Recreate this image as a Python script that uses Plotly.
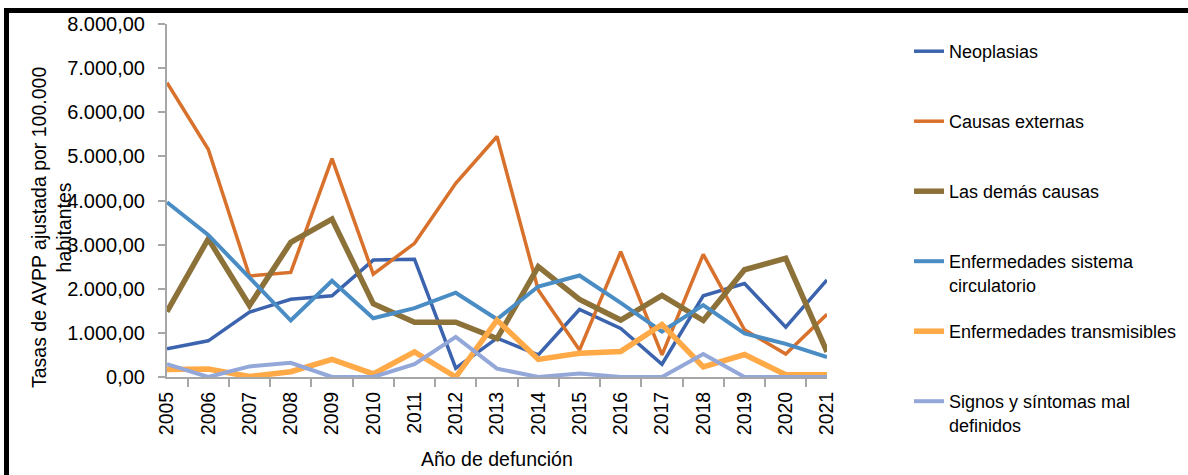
import plotly.graph_objects as go

years = [str(y) for y in range(2005, 2022)]

neoplasias = [640, 820, 1470, 1760, 1840, 2650, 2670, 200, 880, 500, 1530, 1100, 290, 1840, 2120, 1130, 2200]
causas_externas = [6670, 5160, 2290, 2370, 4950, 2330, 3030, 4390, 5450, 1970, 610, 2840, 500, 2780, 1070, 520, 1420]
demas_causas = [1480, 3130, 1620, 3050, 3580, 1660, 1240, 1240, 870, 2500, 1760, 1290, 1850, 1280, 2430, 2690, 570]
circulatorio = [3960, 3220, 2250, 1280, 2180, 1330, 1560, 1910, 1310, 2050, 2300, 1680, 1030, 1630, 990, 750, 450]
transmisibles = [170, 180, 10, 120, 400, 70, 570, 0, 1290, 400, 540, 580, 1190, 230, 510, 50, 50]
signos = [290, 0, 240, 320, 0, 0, 290, 910, 190, 0, 80, 0, 0, 520, 0, 0, 0]

series_names = ["Neoplasias", "Causas externas", "Las demás causas",
                "Enfermedades sistema<br>circulatorio", "Enfermedades transmisibles",
                "Signos y síntomas mal<br>definidos"]
series_values = [neoplasias, causas_externas, demas_causas, circulatorio, transmisibles, signos]
series_colors = ["#3C64AE", "#D8712B", "#8C7139", "#4A8CC4", "#FFA947", "#93A7D9"]
series_widths = [3.5, 3.5, 5.5, 4, 5.5, 4]

y_ticks = [0, 1000, 2000, 3000, 4000, 5000, 6000, 7000, 8000]

FONT = "Liberation Sans, Arial, sans-serif"
W, H = 1188, 475
L, R, T, B = 167, 361, 24, 98
PW, PH = W - L - R, H - T - B

def px_x(p):
    return (p - L) / PW

def px_y(p):
    return (H - B - p) / PH

fig = go.Figure()
legend_targets = [51, 121, 191, 261, 331, 401]
for i, (name, vals, col, wd) in enumerate(zip(series_names, series_values, series_colors, series_widths)):
    lg = "legend" if i == 0 else f"legend{i+1}"
    fig.add_trace(go.Scatter(x=years, y=vals, mode="lines", name=name,
                             line=dict(color=col, width=wd), legend=lg))

legend_common = dict(xanchor="left", yanchor="top", valign="top",
                     bgcolor="rgba(0,0,0,0)", borderwidth=0,
                     font=dict(family=FONT, size=18, color="#000000"))
for i, ty in enumerate(legend_targets):
    key = "legend" if i == 0 else f"legend{i+1}"
    fig.update_layout(**{key: dict(x=px_x(909), y=px_y(ty - 18), **legend_common)})

fig.update_layout(
    width=W, height=H,
    margin=dict(l=L, r=R, t=T, b=B, autoexpand=False),
    paper_bgcolor="white", plot_bgcolor="white",
    separators=",.",
    showlegend=True,
    font=dict(family=FONT, color="#000000"),
    xaxis=dict(type="category", tickangle=-90, showgrid=False, zeroline=False,
               showline=True, linecolor="#A6A6A6", linewidth=2,
               ticks="outside", tickson="boundaries", ticklen=8, tickcolor="#A6A6A6", tickwidth=1.5,
               tickfont=dict(family=FONT, size=19.5, color="#000000"),
               ticklabelstandoff=5),
    yaxis=dict(range=[0, 8000], tickvals=y_ticks, tickformat=",.2f", showgrid=False, zeroline=False,
               showline=True, linecolor="#A6A6A6", linewidth=2,
               ticks="outside", ticklen=7, tickcolor="#A6A6A6", tickwidth=1.5,
               tickfont=dict(family=FONT, size=20, color="#000000"),
               ticklabelstandoff=9),
    annotations=[
        dict(text="Año de defunción", xref="paper", yref="paper", x=0.5, y=px_y(459),
             xanchor="center", yanchor="middle", showarrow=False,
             font=dict(family=FONT, size=19.5, color="#000000")),
        dict(text="Tasas de AVPP ajustada por 100.000<br>habitantes", xref="paper", yref="paper",
             x=px_x(51), y=px_y(228), xanchor="center", yanchor="middle", showarrow=False,
             textangle=-90, font=dict(family=FONT, size=19.5, color="#000000")),
    ],
    shapes=[
        dict(type="line", xref="paper", yref="paper", x0=px_x(4), x1=px_x(1188),
             y0=px_y(10.5), y1=px_y(10.5), line=dict(color="black", width=5)),
        dict(type="line", xref="paper", yref="paper", x0=px_x(6.5), x1=px_x(6.5),
             y0=px_y(8), y1=px_y(475), line=dict(color="black", width=5)),
    ],
)

fig.write_html("out.html", config={"displayModeBar": False},
               post_script="document.body.style.margin='0';document.body.style.overflow='hidden';")
